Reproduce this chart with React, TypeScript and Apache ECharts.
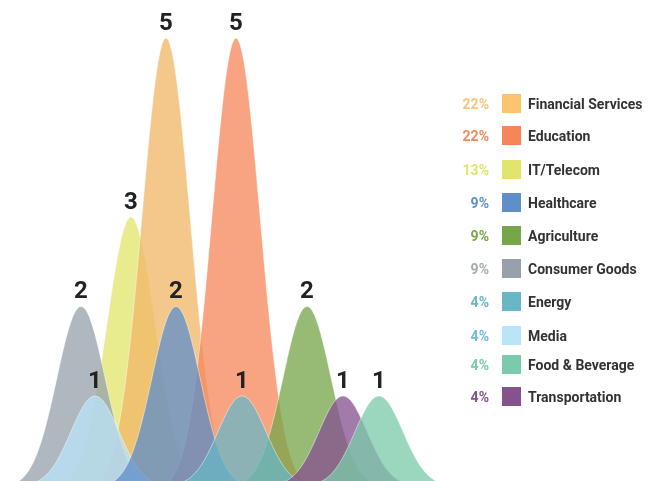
import React, { useEffect, useRef } from "react";
import * as echarts from "echarts";

// ---- data ----
const CATEGORIES = [
  "Financial Services",
  "Education",
  "IT/Telecom",
  "Healthcare",
  "Agriculture",
  "Consumer Goods",
  "Energy",
  "Media",
  "Food & Beverage",
  "Transportation",
];
const COUNTS = [5, 5, 3, 2, 2, 2, 1, 1, 1, 1];
// horizontal position of each hill on the (hidden) x axis
const POSITIONS = [166, 236, 131, 176, 307, 81, 242, 95, 379, 343];
const COLORS = [
  "#FDC470",
  "#F6865A",
  "#E1E56B",
  "#5F8FCA",
  "#76A64A",
  "#96A1AB",
  "#69B7C5",
  "#BAE4F8",
  "#7BCAAB",
  "#85528F",
];
const HILL_COLORS = [
  "#F0B566",
  "#F6865A",
  "#E1E56B",
  "#5F8FCA",
  "#76A64A",
  "#96A1AB",
  "#69B7C5",
  "#BAE4F8",
  "#7BCAAB",
  "#85528F",
];
const PERCENT_COLORS = [
  "#FAC57A",
  "#F4875C",
  "#E1E56B",
  "#5F8FCA",
  "#76A64A",
  "#A3ACB4",
  "#69B7C5",
  "#72BCDB",
  "#7BCAAB",
  "#85528F",
];
// drawing order, bottom to top
const DRAW_ORDER = [
  "IT/Telecom",
  "Financial Services",
  "Education",
  "Consumer Goods",
  "Media",
  "Healthcare",
  "Agriculture",
  "Energy",
  "Transportation",
  "Food & Beverage",
];

// ---- layout ----
const LEGEND_ROW_Y = [103.5, 135.5, 169.5, 202.5, 235.5, 268.5, 301.5, 335.5, 364.5, 396.5];
const SIGMA = 24;
const HALF_W = 72;

const TOTAL = COUNTS.reduce((a, b) => a + b, 0);
const PERCENTS = COUNTS.map((c) => Math.round((c / TOTAL) * 100) + "%");

export default function App() {
  const ref = useRef<HTMLDivElement>(null);

  useEffect(() => {
    if (!ref.current) return;
    const chart = echarts.init(ref.current, null, { renderer: "svg" });

    const e0 = Math.exp(-(HALF_W * HALF_W) / (2 * SIGMA * SIGMA));

    const hillSeries = DRAW_ORDER.map((name) => {
      const i = CATEGORIES.indexOf(name);
      const color = HILL_COLORS[i];
      return {
        type: "custom",
        name,
        data: [[POSITIONS[i], COUNTS[i]]],
        z: 2,
        clip: false,
        renderItem: (params: any, api: any) => {
          const x = api.value(0);
          const v = api.value(1);
          const top = api.coord([x, v]);
          const base = api.coord([x, 0]);
          const h = base[1] - top[1];
          const pts: number[][] = [];
          for (let dx = -HALF_W; dx <= HALF_W; dx += 2) {
            const g = (Math.exp(-(dx * dx) / (2 * SIGMA * SIGMA)) - e0) / (1 - e0);
            pts.push([top[0] + dx, base[1] - h * g]);
          }
          return {
            type: "polygon",
            shape: { points: pts },
            style: {
              fill: color,
              opacity: 0.76,
              stroke: "rgba(255,255,255,0.75)",
              lineWidth: 0.8,
            },
          };
        },
      };
    });

    const labelSeries = {
      type: "custom",
      name: "labels",
      z: 10,
      data: CATEGORIES.map((c, i) => [POSITIONS[i], COUNTS[i]]),
      renderItem: (params: any, api: any) => {
        const x = api.value(0);
        const v = api.value(1);
        const top = api.coord([x, v]);
        return {
          type: "text",
          style: {
            text: String(v),
            x: top[0],
            y: top[1] - 16,
            align: "center",
            verticalAlign: "middle",
            fill: "#222222",
            font: "bold 24px Roboto",
          },
        };
      },
    };

    const legendGraphics: any[] = [];
    CATEGORIES.forEach((name, i) => {
      const y = LEGEND_ROW_Y[i];
      legendGraphics.push({
        type: "text",
        x: 489,
        y,
        style: {
          text: PERCENTS[i],
          align: "right",
          verticalAlign: "middle",
          fill: PERCENT_COLORS[i],
          font: "bold 14px Roboto",
        },
      });
      legendGraphics.push({
        type: "rect",
        x: 502,
        y: y - 9.5,
        shape: { width: 19, height: 19 },
        style: { fill: COLORS[i] },
      });
      legendGraphics.push({
        type: "text",
        x: 528,
        y,
        style: {
          text: name,
          align: "left",
          verticalAlign: "middle",
          fill: "#333333",
          font: "bold 14px Roboto",
        },
      });
    });

    chart.setOption({
      animation: false,
      grid: { left: 0, right: 153, top: 38, bottom: 0 },
      xAxis: { type: "value", min: 0, max: 500, show: false },
      yAxis: { type: "value", min: 0.05, max: 5, show: false },
      series: [...hillSeries, labelSeries],
      graphic: legendGraphics,
    });

    return () => chart.dispose();
  }, []);

  return (
    <div
      ref={ref}
      style={{ position: "fixed", left: 0, top: 0, width: 653, height: 481 }}
    />
  );
}
